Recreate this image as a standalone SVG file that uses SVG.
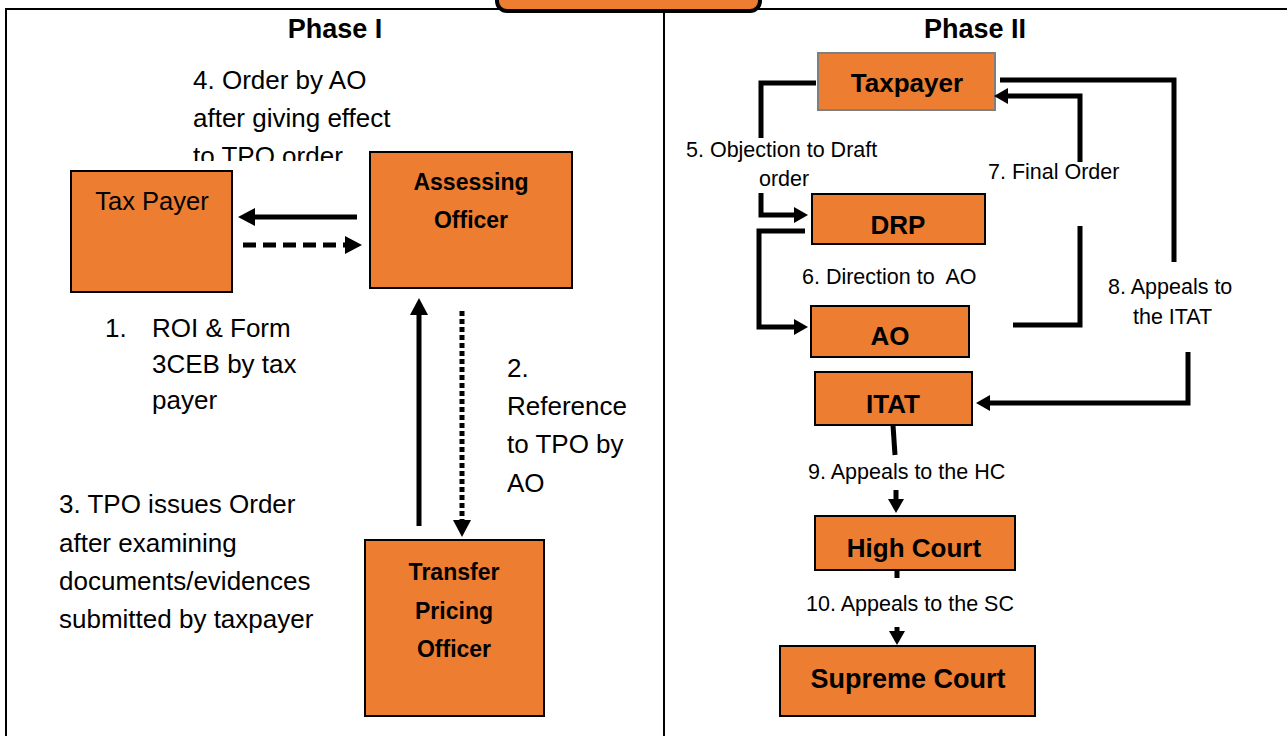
<svg xmlns="http://www.w3.org/2000/svg" width="1287" height="736" viewBox="0 0 1287 736">
<style>
.box{fill:#ED7D31;stroke:#000;stroke-width:2}
.t{font-family:"Liberation Sans",Arial,sans-serif;fill:#000}
.n{font-size:25.5px}
.b{font-weight:bold}
.lbl{font-size:26px}
.l2{font-size:21.5px}
.c{stroke:#000;stroke-width:5;fill:none}
.frame{stroke:#000;stroke-width:2;fill:none}
</style>
<defs>
<marker id="ah" markerUnits="userSpaceOnUse" markerWidth="17" markerHeight="18" refX="1" refY="9" orient="auto">
<path d="M0,0 L17,9 L0,18 z" fill="#000"/>
</marker>
<marker id="ah2" markerUnits="userSpaceOnUse" markerWidth="14" markerHeight="16" refX="1" refY="8" orient="auto">
<path d="M0,0 L14,8 L0,16 z" fill="#000"/>
</marker>
<clipPath id="clip4"><rect x="180" y="60" width="230" height="101"/></clipPath>
</defs>
<rect width="1287" height="736" fill="#fff"/>
<g id="frame">
<path class="frame" d="M6,736 V9 H1287"/>
<path class="frame" d="M664,9 V736"/>
<rect x="497" y="-20" width="263" height="31" rx="10" fill="#ED7D31" stroke="#000" stroke-width="4"/>
</g>
<g id="titles">
<text class="t b" x="335" y="38" font-size="27" text-anchor="middle">Phase I</text>
<text class="t b" x="975" y="38" font-size="27" text-anchor="middle">Phase II</text>
</g>
<g id="taxpayer1">
<rect class="box" x="71" y="171" width="161" height="121"/>
<text class="t n" x="152" y="210" text-anchor="middle">Tax Payer</text>
</g>
<g id="assessing-officer">
<rect class="box" x="370" y="152" width="202" height="136"/>
<text class="t b" font-size="23" x="471" y="190" text-anchor="middle">Assessing</text>
<text class="t b" font-size="23" x="471" y="228" text-anchor="middle">Officer</text>
</g>
<g id="tpo">
<rect class="box" x="365" y="540" width="179" height="176"/>
<text class="t b" font-size="23" x="454" y="580" text-anchor="middle">Transfer</text>
<text class="t b" font-size="23" x="454" y="619" text-anchor="middle">Pricing</text>
<text class="t b" font-size="23" x="454" y="657" text-anchor="middle">Officer</text>
</g>
<g id="taxpayer2">
<rect x="818" y="53" width="177" height="57" fill="#ED7D31" stroke="#7f7f7f" stroke-width="2"/>
<text class="t b" font-size="26" x="907" y="92" text-anchor="middle">Taxpayer</text>
</g>
<g id="drp">
<rect class="box" x="812" y="194" width="173" height="50"/>
<text class="t b" font-size="26" x="898" y="234" text-anchor="middle">DRP</text>
</g>
<g id="ao">
<rect class="box" x="811" y="306" width="158" height="51"/>
<text class="t b" font-size="26" x="890" y="345" text-anchor="middle">AO</text>
</g>
<g id="itat">
<rect class="box" x="815" y="372" width="157" height="53"/>
<text class="t b" font-size="26" x="893" y="413" text-anchor="middle">ITAT</text>
</g>
<g id="high-court">
<rect class="box" x="815" y="516" width="200" height="54"/>
<text class="t b" font-size="26" x="914" y="557" text-anchor="middle">High Court</text>
</g>
<g id="supreme-court">
<rect class="box" x="780" y="646" width="255" height="70"/>
<text class="t b" font-size="27" x="908" y="688" text-anchor="middle">Supreme Court</text>
</g>
<g id="connectors">
<line class="c" x1="357" y1="217" x2="254" y2="217" marker-end="url(#ah)"/>
<line class="c" x1="243" y1="245" x2="346" y2="245" stroke-dasharray="13 7" marker-end="url(#ah)"/>
<line class="c" x1="419" y1="526" x2="419" y2="314" marker-end="url(#ah)"/>
<line class="c" x1="462" y1="311" x2="462" y2="521" stroke-dasharray="5 3" marker-end="url(#ah)"/>
<path class="c" d="M816,83 H761 V138"/>
<path class="c" d="M761,193 V215 H795" marker-end="url(#ah2)"/>
<path class="c" d="M805,231 H759 V327 H795" marker-end="url(#ah2)"/>
<path class="c" d="M1013,325 H1080 V226"/>
<path class="c" d="M1080,162 V96 H1007" marker-end="url(#ah2)"/>
<path class="c" d="M1000,80 H1174 V262"/>
<path class="c" d="M1188,352 V403 H989" marker-end="url(#ah2)"/>
<line class="c" x1="893" y1="425" x2="895" y2="455"/>
<line class="c" x1="896" y1="490" x2="896" y2="500" marker-end="url(#ah2)"/>
<line class="c" x1="897" y1="570" x2="897" y2="578"/>
<line class="c" x1="897" y1="627" x2="897" y2="632" marker-end="url(#ah2)"/>
</g>
<g id="labels">
<g clip-path="url(#clip4)">
<text class="t lbl" x="193" y="89">4. Order by AO</text>
<text class="t lbl" x="193" y="127">after giving effect</text>
<text class="t lbl" x="193" y="165">to TPO order</text>
</g>
<text class="t lbl" x="105" y="337">1.</text>
<text class="t lbl" x="152" y="337">ROI &amp; Form</text>
<text class="t lbl" x="152" y="373">3CEB by tax</text>
<text class="t lbl" x="152" y="409">payer</text>
<text class="t lbl" x="507" y="377">2.</text>
<text class="t lbl" x="507" y="415">Reference</text>
<text class="t lbl" x="507" y="453">to TPO by</text>
<text class="t lbl" x="507" y="492">AO</text>
<text class="t lbl" x="59" y="513">3. TPO issues Order</text>
<text class="t lbl" x="59" y="552">after examining</text>
<text class="t lbl" x="59" y="590">documents/evidences</text>
<text class="t lbl" x="59" y="628">submitted by taxpayer</text>
<text class="t l2" x="686" y="157">5. Objection to Draft</text>
<text class="t l2" x="759" y="186">order</text>
<text class="t l2" x="988" y="179">7. Final Order</text>
<text class="t l2" x="802" y="284" xml:space="preserve" style="white-space:pre">6. Direction to  AO</text>
<text class="t l2" x="1108" y="294">8. Appeals to</text>
<text class="t l2" x="1133" y="324">the ITAT</text>
<text class="t l2" x="808" y="479">9. Appeals to the HC</text>
<text class="t l2" x="806" y="611">10. Appeals to the SC</text>
</g>
</svg>
